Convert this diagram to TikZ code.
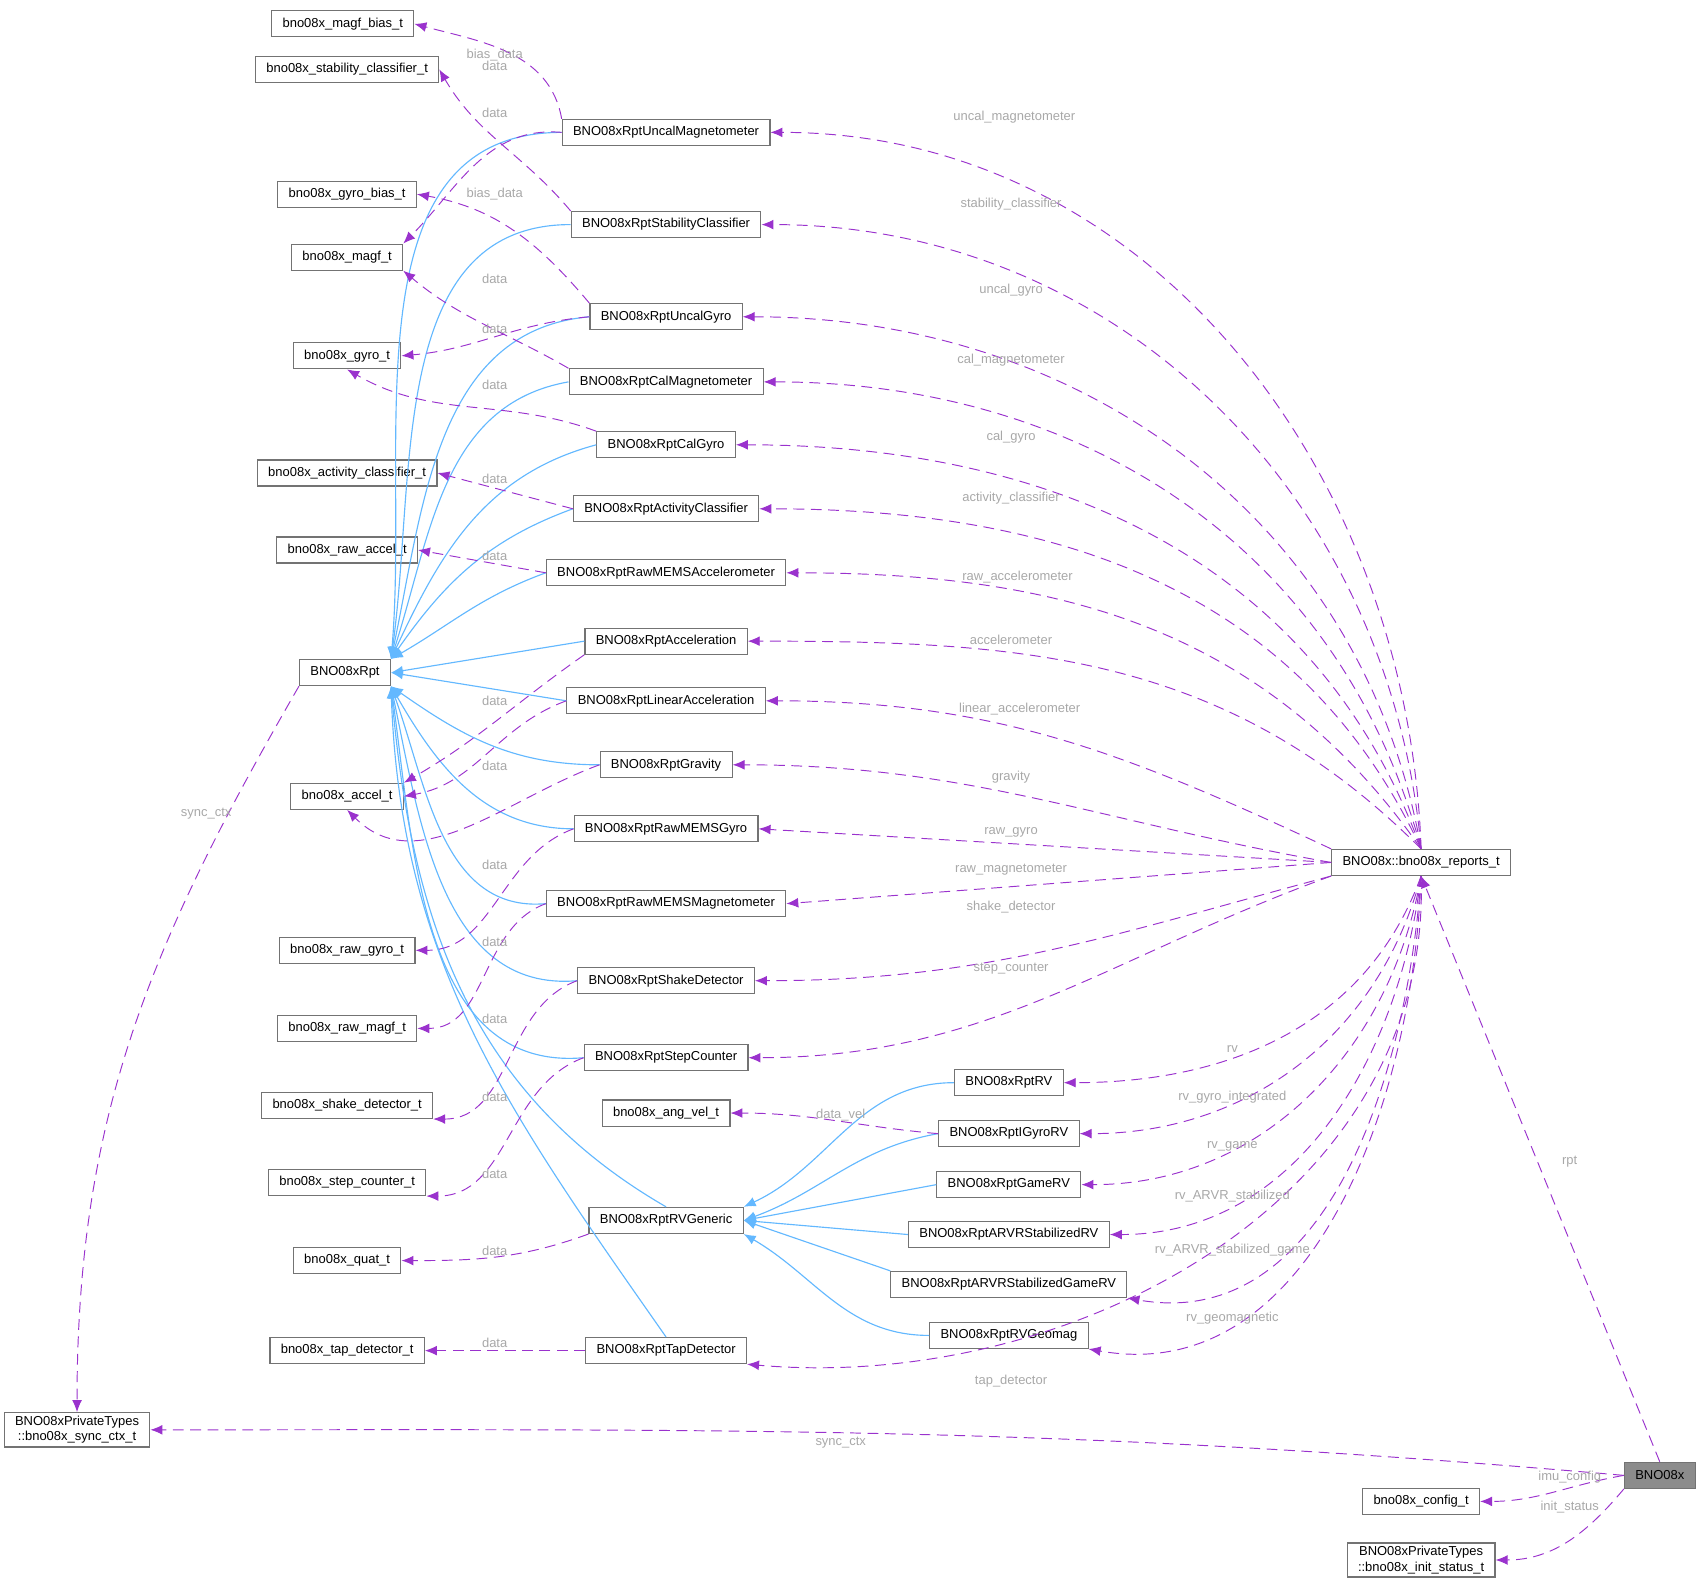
\documentclass[tikz,border=0pt]{standalone}
\usepackage{fontspec}
\setmainfont{Liberation Sans}
\usetikzlibrary{arrows.meta}
\definecolor{memb}{HTML}{9A32CD}
\definecolor{inh}{HTML}{63B8FF}
\definecolor{lblc}{HTML}{A8A8A8}
\tikzset{
  box/.style={rectangle,draw=black!55,line width=0.3pt,fill=white,font=\fontsize{3.4}{4.1}\selectfont,minimum height=0.24cm,inner xsep=0.1cm,inner ysep=0.03cm,align=center},
  mem/.style={draw=memb,dashed,dash pattern=on 0.1cm off 0.06cm,line width=0.25pt,-{Latex[length=1.1mm,width=0.9mm]}},
  der/.style={draw=inh,line width=0.3pt,-{Latex[length=1.1mm,width=0.9mm]}},
  lbl/.style={font=\fontsize{3.4}{4.1}\selectfont,text=lblc,inner sep=0.5pt}
}
\begin{document}
\begin{tikzpicture}[x=0.01cm,y=-0.01cm]
\useasboundingbox (0,0) rectangle (1568,1462);
% plain structs
\node(mbias) at (316,22) [box]{bno08x\_magf\_bias\_t};
\node(stab) at (320,64) [box]{bno08x\_stability\_classifier\_t};
\node(gbias) at (320,179) [box]{bno08x\_gyro\_bias\_t};
\node(magf) at (320,237) [box]{bno08x\_magf\_t};
\node(gyro) at (320,328) [box]{bno08x\_gyro\_t};
\node(actc) at (320,436) [box]{bno08x\_activity\_classifier\_t};
\node(rawacc) at (320,507) [box]{bno08x\_raw\_accel\_t};
\node(rpt) at (318,620) [box]{BNO08xRpt};
\node(accel) at (320,734) [box]{bno08x\_accel\_t};
\node(rawgyro) at (320,876) [box]{bno08x\_raw\_gyro\_t};
\node(rawmagf) at (320,948) [box]{bno08x\_raw\_magf\_t};
\node(shake) at (320,1019) [box]{bno08x\_shake\_detector\_t};
\node(step) at (320,1090) [box]{bno08x\_step\_counter\_t};
\node(quat) at (320,1162) [box]{bno08x\_quat\_t};
\node(tapdet) at (320,1245) [box]{bno08x\_tap\_detector\_t};
\node(sync) at (71,1318) [box]{BNO08xPrivateTypes\\::bno08x\_sync\_ctx\_t};
% report classes
\node(um) at (614,122) [box]{BNO08xRptUncalMagnetometer};
\node(sc) at (614,207) [box]{BNO08xRptStabilityClassifier};
\node(ug) at (614,292) [box]{BNO08xRptUncalGyro};
\node(cm) at (614,352) [box]{BNO08xRptCalMagnetometer};
\node(cg) at (614,410) [box]{BNO08xRptCalGyro};
\node(ac) at (614,469) [box]{BNO08xRptActivityClassifier};
\node(rma) at (614,528) [box]{BNO08xRptRawMEMSAccelerometer};
\node(acc) at (614,591) [box]{BNO08xRptAcceleration};
\node(la) at (614,646) [box]{BNO08xRptLinearAcceleration};
\node(grav) at (614,705) [box]{BNO08xRptGravity};
\node(rmg) at (614,764) [box]{BNO08xRptRawMEMSGyro};
\node(rmm) at (614,833) [box]{BNO08xRptRawMEMSMagnetometer};
\node(sd) at (614,904) [box]{BNO08xRptShakeDetector};
\node(stc) at (614,975) [box]{BNO08xRptStepCounter};
\node(angvel) at (614,1026) [box]{bno08x\_ang\_vel\_t};
\node(rvg) at (614,1125) [box]{BNO08xRptRVGeneric};
\node(tap) at (614,1245) [box]{BNO08xRptTapDetector};
% rotation vectors
\node(rv) at (930,998) [box]{BNO08xRptRV};
\node(igyro) at (930,1045) [box]{BNO08xRptIGyroRV};
\node(game) at (930,1092) [box]{BNO08xRptGameRV};
\node(arvr) at (930,1138) [box]{BNO08xRptARVRStabilizedRV};
\node(arvrg) at (930,1184) [box]{BNO08xRptARVRStabilizedGameRV};
\node(geomag) at (930,1231) [box]{BNO08xRptRVGeomag};
% right side
\node(rep) at (1310,795) [box]{BNO08x::bno08x\_reports\_t};
\node(bno) at (1530,1360) [box,fill=black!45]{BNO08x};
\node(cfg) at (1310,1384) [box]{bno08x\_config\_t};
\node(init) at (1310,1438) [box]{BNO08xPrivateTypes\\::bno08x\_init\_status\_t};

% inheritance
\draw[der] (um.west) to[out=180,in=85] (rpt.north east);
\draw[der] (sc.west) to[out=180,in=82] (rpt.north east);
\draw[der] (ug.west) to[out=185,in=78] (rpt.north east);
\draw[der] (cm.west) to[out=190,in=72] (rpt.north east);
\draw[der] (cg.west) to[out=195,in=65] (rpt.north east);
\draw[der] (ac.west) to[out=200,in=55] (rpt.north east);
\draw[der] (rma.west) to[out=200,in=30] (rpt.north east);
\draw[der] (acc.west) -- (rpt.east);
\draw[der] (la.west) -- (rpt.east);
\draw[der] (grav.west) to[out=180,in=-35] (rpt.south east);
\draw[der] (rmg.west) to[out=180,in=-60] (rpt.south east);
\draw[der] (rmm.west) to[out=185,in=-70] (rpt.south east);
\draw[der] (sd.west) to[out=185,in=-78] (rpt.south east);
\draw[der] (stc.west) to[out=185,in=-82] (rpt.south east);
\draw[der] (rvg.north) to[out=150,in=-85] (rpt.south east);
\draw[der] (tap.north) to[out=125,in=-88] (rpt.south east);
\draw[der] (rv.west) to[out=180,in=25] (rvg.north east);
\draw[der] (igyro.west) to[out=190,in=20] (rvg.east);
\draw[der] (game.west) -- (rvg.east);
\draw[der] (arvr.west) -- (rvg.east);
\draw[der] (arvrg.north west) -- (rvg.east);
\draw[der] (geomag.west) to[out=180,in=-30] (rvg.south east);

% data members of the report classes
\draw[mem] (um.north west) to[out=100,in=-15] (mbias.east);
\draw[mem] (um.west) to[out=175,in=45] (magf.north east);
\draw[mem] (sc.north west) to[out=130,in=-60] (stab.east);
\draw[mem] (ug.north west) to[out=130,in=-10] (gbias.east);
\draw[mem] (ug.west) to[out=185,in=5] (gyro.east);
\draw[mem] (cm.north west) to[out=150,in=-40] (magf.south east);
\draw[mem] (cg.north west) to[out=160,in=-30] (gyro.south);
\draw[mem] (ac.west) -- (actc.east);
\draw[mem] (rma.west) -- (rawacc.east);
\draw[mem] (acc.south west) to[out=215,in=30] (accel.north east);
\draw[mem] (la.west) to[out=200,in=10] (accel.east);
\draw[mem] (grav.west) to[out=200,in=-45] (accel.south);
\draw[mem] (rmg.west) to[out=200,in=0] (rawgyro.east);
\draw[mem] (rmm.west) to[out=200,in=0] (rawmagf.east);
\draw[mem] (sd.west) to[out=200,in=0] (shake.south east);
\draw[mem] (stc.west) to[out=200,in=0] (step.south east);
\draw[mem] (rvg.south west) to[out=200,in=0] (quat.east);
\draw[mem] (tap.west) -- (tapdet.east);
\draw[mem] (igyro.west) to[out=175,in=0] (angvel.east);
\draw[mem] (rpt.south west) to[out=240,in=90] (sync.north);
\node(l01) at (456,51) [lbl]{bias\_data};
\node(l02) at (456,104) [lbl]{data};
\node(l03) at (456,61) [lbl]{data};
\node(l04) at (456,179) [lbl]{bias\_data};
\node(l05) at (456,303) [lbl]{data};
\node(l06) at (456,257) [lbl]{data};
\node(l07) at (456,355) [lbl]{data};
\node(l08) at (456,441) [lbl]{data};
\node(l09) at (456,512) [lbl]{data};
\node(l10) at (456,646) [lbl]{data};
\node(l11) at (456,706) [lbl]{data};
\node(l12) at (456,797) [lbl]{data};
\node(l13) at (456,868) [lbl]{data};
\node(l14) at (456,939) [lbl]{data};
\node(l15) at (456,1011) [lbl]{data};
\node(l16) at (456,1082) [lbl]{data};
\node(l17) at (456,1153) [lbl]{data};
\node(l18) at (456,1238) [lbl]{data};
\node(l19) at (775,1028) [lbl]{data\_vel};
\node(l20) at (190,750) [lbl]{sync\_ctx};

% members of the reports struct
\draw[mem] (rep.north) to[out=92,in=0] (um.east);
\draw[mem] (rep.north) to[out=95,in=0] (sc.east);
\draw[mem] (rep.north) to[out=100,in=0] (ug.east);
\draw[mem] (rep.north) to[out=105,in=0] (cm.east);
\draw[mem] (rep.north) to[out=110,in=0] (cg.east);
\draw[mem] (rep.north) to[out=115,in=0] (ac.east);
\draw[mem] (rep.north) to[out=125,in=0] (rma.east);
\draw[mem] (rep.north) to[out=135,in=0] (acc.east);
\draw[mem] (rep.north west) to[out=155,in=0] (la.east);
\draw[mem] (rep.west) to[out=170,in=0] (grav.east);
\draw[mem] (rep.west) -- (rmg.east);
\draw[mem] (rep.west) -- (rmm.east);
\draw[mem] (rep.south west) to[out=195,in=0] (sd.east);
\draw[mem] (rep.south west) to[out=200,in=0] (stc.east);
\draw[mem] (rep.south) to[out=250,in=0] (rv.east);
\draw[mem] (rep.south) to[out=255,in=0] (igyro.east);
\draw[mem] (rep.south) to[out=260,in=0] (game.east);
\draw[mem] (rep.south) to[out=263,in=0] (arvr.east);
\draw[mem] (rep.south) to[out=266,in=-10] (arvrg.south east);
\draw[mem] (rep.south) to[out=268,in=-10] (geomag.south east);
\draw[mem] (rep.south) to[out=272,in=-5] (tap.south east);
\node(r01) at (935,108) [lbl]{uncal\_magnetometer};
\node(r02) at (932,188) [lbl]{stability\_classifier};
\node(r03) at (932,267) [lbl]{uncal\_gyro};
\node(r04) at (932,332) [lbl]{cal\_magnetometer};
\node(r05) at (932,403) [lbl]{cal\_gyro};
\node(r06) at (932,459) [lbl]{activity\_classifier};
\node(r07) at (938,532) [lbl]{raw\_accelerometer};
\node(r08) at (932,590) [lbl]{accelerometer};
\node(r09) at (940,654) [lbl]{linear\_accelerometer};
\node(r10) at (932,716) [lbl]{gravity};
\node(r11) at (932,767) [lbl]{raw\_gyro};
\node(r12) at (932,802) [lbl]{raw\_magnetometer};
\node(r13) at (932,836) [lbl]{shake\_detector};
\node(r14) at (932,893) [lbl]{step\_counter};
\node(r15) at (1136,967) [lbl]{rv};
\node(r16) at (1136,1011) [lbl]{rv\_gyro\_integrated};
\node(r17) at (1136,1057) [lbl]{rv\_game};
\node(r18) at (1136,1103) [lbl]{rv\_ARVR\_stabilized};
\node(r19) at (1136,1152) [lbl]{rv\_ARVR\_stabilized\_game};
\node(r20) at (1136,1215) [lbl]{rv\_geomagnetic};
\node(r21) at (932,1273) [lbl]{tap\_detector};

% members of BNO08x
\draw[mem] (bno.north) -- (rep.south);
\draw[mem] (bno.west) to[out=175,in=0] (sync.east);
\draw[mem] (bno.west) to[out=190,in=0] (cfg.east);
\draw[mem] (bno.south west) to[out=230,in=0] (init.east);
\node(b01) at (1447,1071) [lbl]{rpt};
\node(b02) at (775,1330) [lbl]{sync\_ctx};
\node(b03) at (1447,1362) [lbl]{imu\_config};
\node(b04) at (1447,1389) [lbl]{init\_status};
\end{tikzpicture}
\end{document}
